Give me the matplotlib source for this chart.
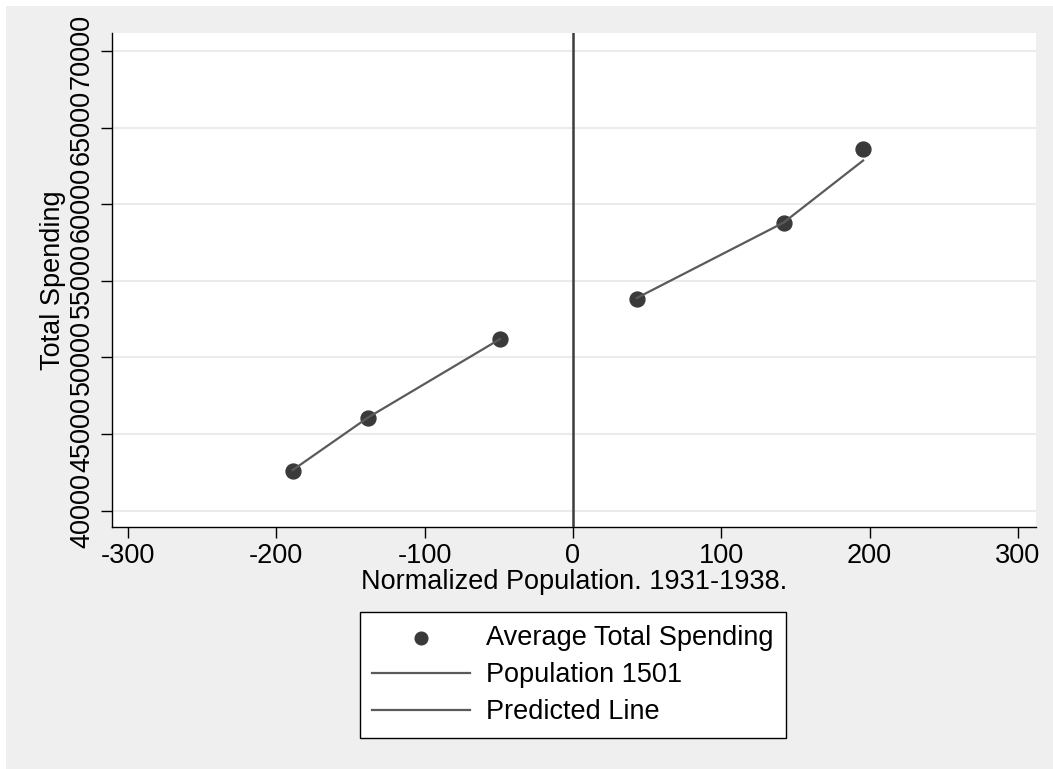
import matplotlib
matplotlib.use("Agg")
import matplotlib.pyplot as plt
from matplotlib.patches import Rectangle

plt.rcParams['font.family'] = ['Liberation Sans', 'DejaVu Sans']

# binned averages
pop_x = [-189.0, -138.2, -49.2, 43.0, 142.0, 195.6]
avg_spending = [42590, 46050, 51220, 53830, 58750, 63600]

# fitted lines left / right of the cutoff
left_x = [-189.0, -138.2, -49.2]
left_fit = [42650, 46080, 51200]
right_x = [43.0, 142.0, 195.6]
right_fit = [53880, 58800, 62850]

x_ticks = [-300, -200, -100, 0, 100, 200, 300]
y_ticks = [40000, 45000, 50000, 55000, 60000, 65000, 70000]

BG = '#efefef'
MARK = '#3a3a3a'
LINE = '#5a5a5a'
FS = 19.5

fig = plt.figure(figsize=(10.53, 7.69), dpi=100, facecolor=BG)
# thin white strip on the top and left edges
fig.patches.append(Rectangle((0, 0), 6 / 1053, 1, transform=fig.transFigure,
                             facecolor='white', edgecolor='none', zorder=-10))
fig.patches.append(Rectangle((0, 1 - 6 / 769), 1, 6 / 769, transform=fig.transFigure,
                             facecolor='white', edgecolor='none', zorder=-10))

ax = fig.add_axes([111.7 / 1053, 1 - 526.7 / 769, (1035.7 - 111.7) / 1053, (526.7 - 33) / 769])
ax.set_facecolor('white')

ax.scatter(pop_x, avg_spending, s=115, color=MARK, zorder=4, label='Average Total Spending')
ax.plot(left_x, left_fit, color=LINE, lw=1.6, zorder=5, label='Population 1501')
ax.plot(right_x, right_fit, color=LINE, lw=1.6, zorder=5, label='Predicted Line')
ax.axvline(0, color='#3c3c3c', lw=1.8, zorder=3)

ax.set_xlim(-311, 312)
ax.set_ylim(38955, 71175)
ax.set_xticks(x_ticks)
ax.set_yticks(y_ticks)
ax.set_xticklabels([str(v) for v in x_ticks], fontsize=FS)
ax.set_yticklabels([str(v) for v in y_ticks], fontsize=FS, rotation=90, va='center')
ax.tick_params(axis='both', direction='out', length=8, width=1, color='black', pad=4)
ax.grid(axis='y', color='#ebebeb', lw=1.5, zorder=0)
ax.set_axisbelow(True)

for side in ['top', 'right']:
    ax.spines[side].set_visible(False)
for side in ['left', 'bottom']:
    ax.spines[side].set_linewidth(1.0)
    ax.spines[side].set_color('black')

ax.set_xlabel('Normalized Population. 1931-1938.', fontsize=FS, labelpad=0)
ax.set_ylabel('Total Spending', fontsize=FS, labelpad=2)

leg = fig.legend(loc='center', bbox_to_anchor=(573 / 1053, 1 - 675 / 769), fontsize=FS,
                 frameon=True, fancybox=False, edgecolor='black', facecolor='white',
                 framealpha=1, handlelength=3.6, handletextpad=0.6, labelspacing=0.42,
                 borderpad=0.45, borderaxespad=0, markerscale=0.85)
leg.get_frame().set_linewidth(1.0)

fig.savefig('out.png', dpi=100, facecolor=fig.get_facecolor())
